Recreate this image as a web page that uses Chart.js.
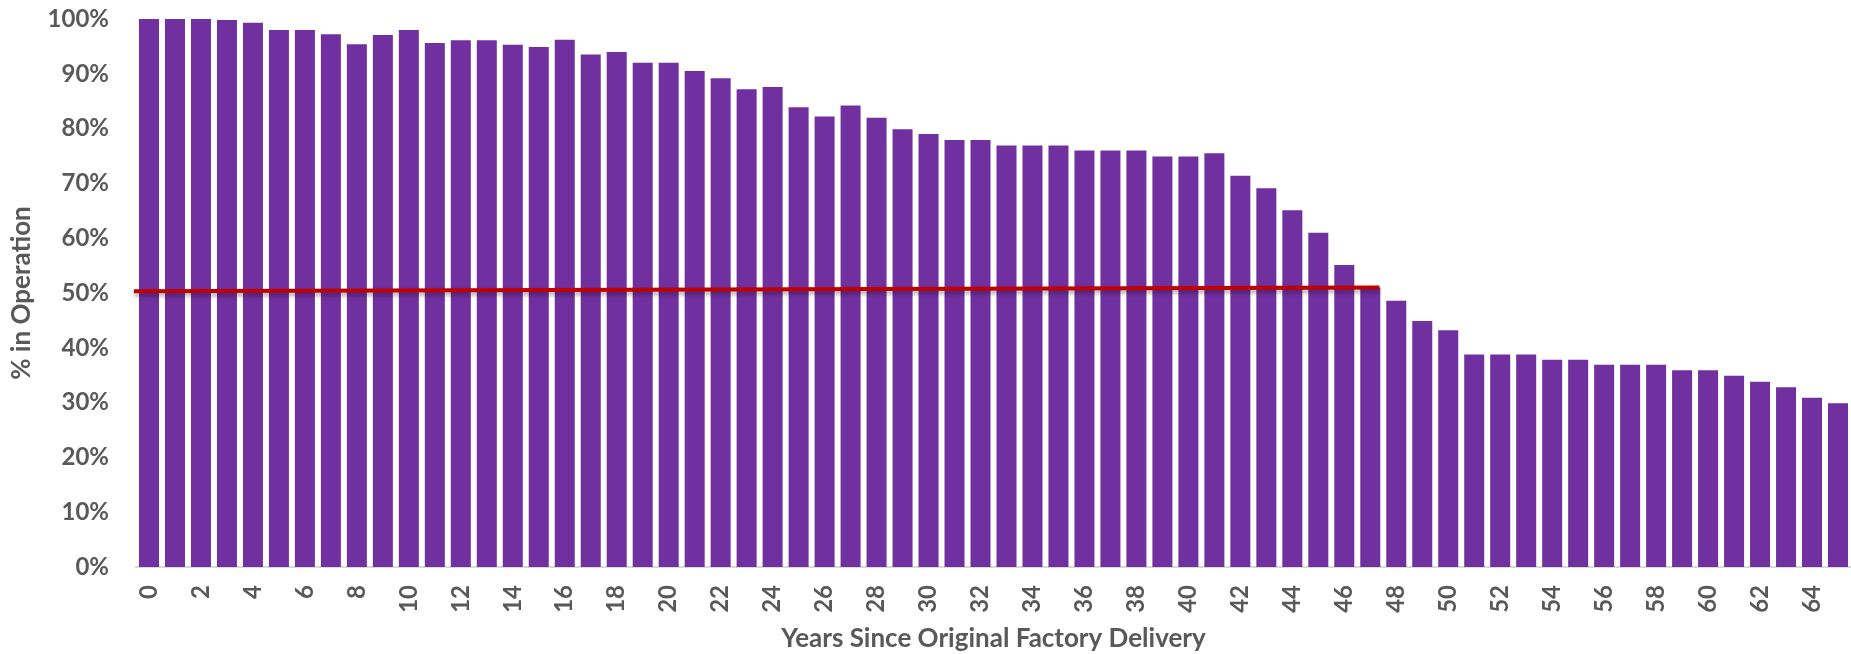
<!DOCTYPE html>
<html>
<head>
<meta charset="utf-8">
<title>% in Operation</title>
<script src="https://cdn.jsdelivr.net/npm/chart.js@4"></script>
<style>
  body { margin: 0; background: #ffffff; }
  .chart-box { width: 1851px; height: 654px; position: relative; }
</style>
</head>
<body>
<div class="chart-box">
  <canvas id="operationChart"></canvas>
</div>
<script>
// Chart Data
const years = [
  0, 1, 2, 3, 4, 5, 6, 7, 8, 9, 10, 11, 12, 13, 14, 15, 16, 17, 18, 19, 20, 21,
  22, 23, 24, 25, 26, 27, 28, 29, 30, 31, 32, 33, 34, 35, 36, 37, 38, 39, 40, 41,
  42, 43, 44, 45, 46, 47, 48, 49, 50, 51, 52, 53, 54, 55, 56, 57, 58, 59, 60, 61,
  62, 63, 64, 65,
];

const inOperation = [
  100, 100, 100, 99.8, 99.3, 98.0, 98.0, 97.2, 95.4, 97.1,
  98.0, 95.6, 96.1, 96.1, 95.3, 94.9, 96.2, 93.5, 94.0, 92.0,
  92.0, 90.5, 89.2, 87.2, 87.6, 83.9, 82.2, 84.2, 82.0, 79.9,
  79.0, 77.9, 77.9, 76.9, 76.9, 76.9, 76.0, 76.0, 76.0, 74.9,
  74.9, 75.5, 71.4, 69.1, 65.1, 61.0, 55.1, 51.0, 48.6, 44.9,
  43.2, 38.8, 38.8, 38.8, 37.8, 37.8, 36.9, 36.9, 36.9, 35.9,
  35.9, 34.9, 33.8, 32.8, 30.9, 29.9,
];

// Red 50% marker (start / end, in year units)
const markerYears = [-0.58, 47.35];
const markerValues = [50.3, 51.0];

// Tick labels
const xTicks = [
  0, 2, 4, 6, 8, 10, 12, 14, 16, 18, 20, 22, 24, 26, 28, 30, 32, 34, 36, 38, 40,
  42, 44, 46, 48, 50, 52, 54, 56, 58, 60, 62, 64,
];
const yTicks = [0, 10, 20, 30, 40, 50, 60, 70, 80, 90, 100];

const textColor = "#595959";
const tickFont = { family: "Lato, 'Open Sans', sans-serif", size: 24, weight: "bold" };
const titleFont = { family: "Lato, 'Open Sans', sans-serif", size: 26, weight: "bold" };

// Drop shadow under the red line
const shadowPlugin = {
  id: "lineShadow",
  beforeDatasetDraw(chart, args) {
    if (args.index !== 1) return;
    const ctx = chart.ctx;
    ctx.save();
    ctx.shadowColor = "rgba(0, 0, 0, 0.35)";
    ctx.shadowBlur = 4;
    ctx.shadowOffsetY = 3;
  },
  afterDatasetDraw(chart, args) {
    if (args.index !== 1) return;
    chart.ctx.restore();
  },
};

document.addEventListener("DOMContentLoaded", function () {
  const ctx = document.getElementById("operationChart");
  new Chart(ctx, {
    type: "bar",
    data: {
      datasets: [
        {
          type: "bar",
          data: years.map((x, i) => ({ x: x, y: inOperation[i] })),
          backgroundColor: "#7030A0",
          borderWidth: 0,
          barPercentage: 0.77,
          categoryPercentage: 1,
          order: 2,
        },
        {
          type: "line",
          data: markerYears.map((x, i) => ({ x: x, y: markerValues[i] })),
          borderColor: "#C00000",
          borderWidth: 4,
          pointRadius: 0,
          fill: false,
          clip: false,
          order: 1,
        },
      ],
    },
    options: {
      responsive: true,
      maintainAspectRatio: false,
      animation: false,
      layout: { padding: { top: 19, left: 0, right: 0, bottom: 0 } },
      plugins: {
        legend: { display: false },
        tooltip: { enabled: false },
      },
      scales: {
        x: {
          type: "linear",
          min: -0.5,
          max: 65.5,
          offset: false,
          grid: { display: false, drawTicks: false },
          border: { display: true, color: "#d9d9d9", width: 2 },
          afterBuildTicks: function (scale) {
            scale.ticks = xTicks.map((v) => ({ value: v }));
          },
          ticks: {
            autoSkip: false,
            maxRotation: 90,
            minRotation: 90,
            padding: 18,
            color: textColor,
            font: tickFont,
            callback: function (value) {
              return String(value);
            },
          },
          title: {
            display: true,
            text: "Years Since Original Factory Delivery",
            color: textColor,
            font: titleFont,
            padding: { top: 0, bottom: 0 },
          },
          afterFit: function (scale) {
            scale.height = 87;
            scale.paddingLeft = 0;
            scale.paddingRight = 0;
          },
        },
        y: {
          min: 0,
          max: 100,
          grid: { display: false, drawTicks: false },
          border: { display: false },
          afterBuildTicks: function (scale) {
            scale.ticks = yTicks.map((v) => ({ value: v }));
          },
          ticks: {
            padding: 27,
            color: textColor,
            font: tickFont,
            callback: function (value) {
              return value + "%";
            },
          },
          title: {
            display: true,
            text: "% in Operation",
            color: textColor,
            font: titleFont,
            padding: { top: 6, bottom: 0 },
          },
          afterFit: function (scale) {
            scale.width = 136;
            scale.paddingTop = 0;
            scale.paddingBottom = 0;
          },
        },
      },
    },
    plugins: [shadowPlugin],
  });
});
</script>
</body>
</html>
